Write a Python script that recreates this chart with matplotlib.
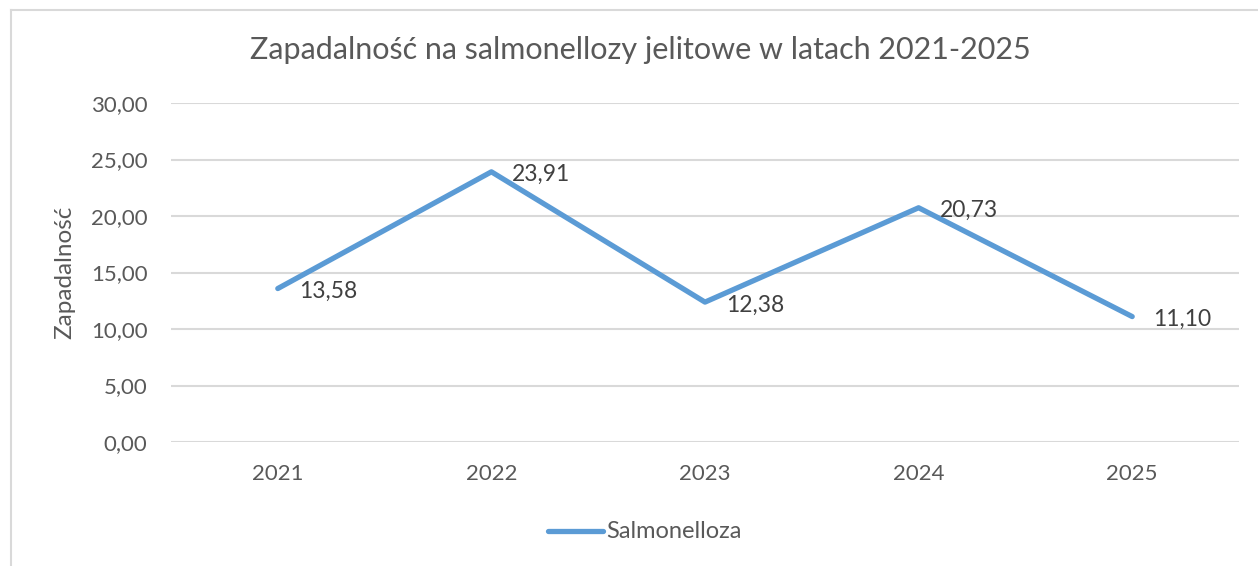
import matplotlib
matplotlib.use("Agg")
import matplotlib.pyplot as plt
from matplotlib.lines import Line2D

years = ["2021", "2022", "2023", "2024", "2025"]
values = [13.58, 23.91, 12.38, 20.73, 11.10]
series_name = "Salmonelloza"
title = "Zapadalność na salmonellozy jelitowe w latach 2021-2025"
ylabel = "Zapadalność"
yticks = [0, 5, 10, 15, 20, 25, 30]

plt.rcParams['font.family'] = ['Lato', 'DejaVu Sans']

W, H = 1258, 566
fig = plt.figure(figsize=(W / 100, H / 100), dpi=100)
ax = fig.add_axes([171 / W, 1 - 442 / H, (1239 - 171) / W, (442 - 103) / H])

x = list(range(len(years)))
line_color = "#5B9BD5"
ax.plot(x, values, color=line_color, lw=3.8, solid_capstyle="round",
        solid_joinstyle="round", label=series_name, zorder=3)

for xi, v in zip(x, values):
    ax.annotate(f"{v:.2f}".replace(".", ","), (xi, v), xytext=(15, -2),
                textcoords="offset points", ha="left", va="center",
                fontsize=16.5, color="#404040")

ax.set_xlim(-0.5, len(years) - 0.5)
ax.set_ylim(0, 30)
ax.set_yticks(yticks)
ax.set_yticklabels([f"{t:.2f}".replace(".", ",") for t in yticks])
ax.set_xticks(x)
ax.set_xticklabels(years)
ax.tick_params(axis="both", length=0, labelsize=16, labelcolor="#595959")
ax.tick_params(axis="y", pad=17)
ax.tick_params(axis="x", pad=16)
ax.grid(axis="y", color="#D9D9D9", lw=1.5)
ax.set_axisbelow(True)
for s in ax.spines.values():
    s.set_visible(False)

fig.text(640 / W, 1 - 50 / H, title, ha="center", va="center",
         fontsize=22, color="#595959")
fig.text(65 / W, 1 - 272 / H, ylabel, ha="center", va="center",
         rotation=90, fontsize=17.5, color="#595959")

# legend
fig.add_artist(Line2D([548 / W, 603 / W], [1 - 531 / H, 1 - 531 / H],
                      color=line_color, lw=3.8, solid_capstyle="round"))
fig.text(606 / W, 1 - 531 / H, series_name, ha="left", va="center",
         fontsize=17, color="#595959")

# chart area border
fig.add_artist(Line2D([11 / W, 11 / W], [0, 1 - 10 / H], color="#D9D9D9", lw=1.5))
fig.add_artist(Line2D([11 / W, 1], [1 - 10 / H, 1 - 10 / H], color="#D9D9D9", lw=1.5))

fig.savefig("out.png", dpi=100)
